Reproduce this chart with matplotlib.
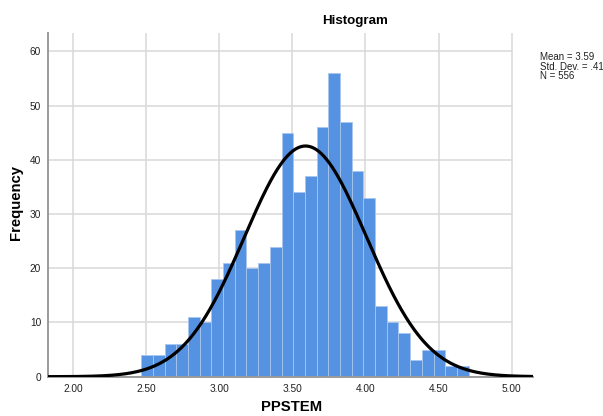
import numpy as np
import matplotlib
matplotlib.use("Agg")
import matplotlib.pyplot as plt

# Data
bin_start = 2.466
bin_width = 0.08
counts = [4, 4, 6, 6, 11, 10, 18, 21, 27, 20, 21, 24, 45, 34,
          37, 46, 56, 47, 38, 33, 13, 10, 8, 3, 5, 5, 2, 2]
mean_val = 3.59
std_val = 0.417
n_val = 556
x_ticks = [2.0, 2.5, 3.0, 3.5, 4.0, 4.5, 5.0]
x_tick_labels = ["2.00", "2.50", "3.00", "3.50", "4.00", "4.50", "5.00"]
y_ticks = [0, 10, 20, 30, 40, 50, 60]

plt.rcParams['font.family'] = ['Liberation Sans', 'DejaVu Sans']

fig = plt.figure(figsize=(6.03, 4.16), dpi=100)
ax = fig.add_axes([48/603, 1-376.7/416, (533-48)/603, (376.7-33)/416])

xmin, xmax = 1.829, 5.146
ymax = 63.4
ax.set_xlim(xmin, xmax)
ax.set_ylim(0, ymax)

grid_c = '#d9d9d9'
for yt in y_ticks[1:]:
    ax.plot([xmin, 5.0], [yt, yt], color=grid_c, lw=1.1, zorder=0)
for xt in x_ticks:
    ax.plot([xt, xt], [0, ymax], color=grid_c, lw=1.1, zorder=0)

edges = bin_start + bin_width * np.arange(len(counts))
ax.bar(edges, counts, width=bin_width, align='edge', color='#5592e2',
       edgecolor='#a8c6ef', linewidth=0.6, zorder=2)

xs = np.linspace(xmin, xmax, 600)
ys = n_val * bin_width / (std_val * np.sqrt(2 * np.pi)) * np.exp(-0.5 * ((xs - mean_val) / std_val) ** 2)
ax.plot(xs, ys, color='black', lw=2.3, zorder=3, solid_capstyle='butt')

for s in ['top', 'right']:
    ax.spines[s].set_visible(False)
ax.spines['left'].set_color('#9a9a9a')
ax.spines['left'].set_linewidth(1.4)
ax.spines['bottom'].set_color('#9a9a9a')
ax.spines['bottom'].set_linewidth(1.4)

ax.set_xticks(x_ticks)
ax.set_xticklabels(x_tick_labels)
ax.set_yticks(y_ticks)
ax.tick_params(axis='both', length=0, labelsize=7.3, colors='#222222', pad=5)

fig.text(292/603, 1-407/416, "PPSTEM", ha='center', va='center', fontsize=10.7, fontweight='bold')
fig.text(16/603, 1-203/416, "Frequency", ha='center', va='center', rotation=90, fontsize=10.7, fontweight='bold')
fig.text(355/603, 1-21/416, "Histogram", ha='center', va='center', fontsize=9.6, fontweight='bold')

stats = [f"Mean = {mean_val:.2f}", f"Std. Dev. = .417", f"N = {n_val}"]
for i, s in enumerate(stats):
    fig.text(540/603, 1-(57 + 9.5*i)/416, s, ha='left', va='center', fontsize=7.0, color='#222222')

fig.savefig("out.png", dpi=100)
